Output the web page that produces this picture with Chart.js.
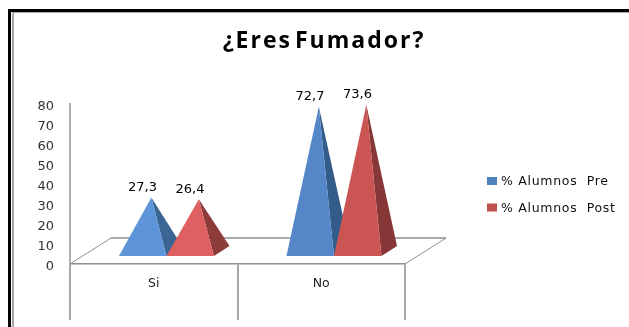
<!DOCTYPE html>
<html lang="es">
<head>
<meta charset="utf-8">
<title>¿Eres Fumador?</title>
<script src="https://cdn.jsdelivr.net/npm/chart.js@4"></script>
<style>
  html, body { margin: 0; padding: 0; background: #fff; }
  canvas { display: block; }
</style>
</head>
<body>
<canvas id="grafico" width="629" height="327"></canvas>
<script>
const chartTitle = '¿Eres Fumador?';
const categories = ['Si', 'No'];
const seriesNames = ['% Alumnos  Pre', '% Alumnos  Post'];
const alumnosPre = [27.3, 72.7];
const alumnosPost = [26.4, 73.6];
const yTicks = [0, 10, 20, 30, 40, 50, 60, 70, 80];

const legendColors = ['#4F81BD', '#C0504D'];
// Front and side face shades, per series and per category
const frontColors = [['#5E95D8', '#5486C8'], ['#DE6060', '#CB5553']];
const sideColors = [['#3A6595', '#335C8A'], ['#8E3B3B', '#873737']];

const FONT = '"DejaVu Sans", sans-serif';
const DEPTH_X = 41, DEPTH_Y = 26;   // oblique offset of the floor's back edge
const BASE_FRONT = 0.31, BASE_BACK = 0.69, APEX_DEPTH = 0.46;

const line = (ctx, pts, color, width) => {
  ctx.save();
  ctx.strokeStyle = color;
  ctx.lineWidth = width;
  ctx.beginPath();
  pts.forEach((p, i) => i ? ctx.lineTo(p[0], p[1]) : ctx.moveTo(p[0], p[1]));
  ctx.stroke();
  ctx.restore();
};

const poly = (ctx, pts, color) => {
  ctx.fillStyle = color;
  ctx.beginPath();
  pts.forEach((p, i) => i ? ctx.lineTo(p[0], p[1]) : ctx.moveTo(p[0], p[1]));
  ctx.closePath();
  ctx.fill();
};

// Page frame, heading and key
const framePlugin = {
  id: 'frame',
  beforeDraw(chart) {
    const ctx = chart.ctx;
    ctx.save();
    ctx.fillStyle = '#fff';
    ctx.fillRect(0, 0, chart.width, chart.height);
    ctx.fillStyle = '#000';
    ctx.fillRect(8, 9, 3, chart.height - 9);
    ctx.fillRect(8, 9, chart.width - 8, 3);
    ctx.fillStyle = '#a6a6a6';
    ctx.fillRect(12, 12, 2, chart.height - 12);
    ctx.fillRect(12, 12, chart.width - 12, 1);

    ctx.fillStyle = '#000';
    ctx.font = 'bold 23px "Open Sans", sans-serif';
    ctx.letterSpacing = '2px';
    ctx.wordSpacing = '-5px';
    ctx.textAlign = 'center';
    ctx.textBaseline = 'middle';
    ctx.fillText(chartTitle, 324, 41);
    ctx.wordSpacing = '0px';

    ctx.font = '12.5px ' + FONT;
    ctx.letterSpacing = '0.7px';
    ctx.textAlign = 'left';
    seriesNames.forEach((name, i) => {
      const y = 181 + i * 26.5;
      ctx.fillStyle = legendColors[i];
      ctx.fillRect(487, y - 4, 10, 8);
      ctx.fillStyle = '#111';
      ctx.fillText(name, 501, y + 1);
    });
    ctx.letterSpacing = '0px';
    ctx.restore();
  }
};

// Floor of the oblique plot: back edge and the two receding sides
const floorPlugin = {
  id: 'floor',
  beforeDatasetsDraw(chart) {
    const { ctx, chartArea: a } = chart;
    const grey = '#8f8f8f';
    line(ctx, [[a.left + DEPTH_X, a.bottom - DEPTH_Y], [a.right + DEPTH_X, a.bottom - DEPTH_Y]], grey, 1.5);
    line(ctx, [[a.left, a.bottom], [a.left + DEPTH_X, a.bottom - DEPTH_Y]], grey, 1);
    line(ctx, [[a.right, a.bottom], [a.right + DEPTH_X, a.bottom - DEPTH_Y]], grey, 1);
  }
};

// Each bar element is rendered as a pyramid rising from the floor
const pyramidPlugin = {
  id: 'pyramids',
  afterDatasetsDraw(chart) {
    const ctx = chart.ctx;
    const y0 = chart.scales.y.getPixelForValue(0);
    ctx.save();
    chart.data.datasets.forEach((ds, s) => {
      chart.getDatasetMeta(s).data.forEach((bar, c) => {
        const half = bar.width / 2;
        const frontX = bar.x + DEPTH_X * BASE_FRONT;
        const frontY = y0 - DEPTH_Y * BASE_FRONT;
        const backX = bar.x + DEPTH_X * BASE_BACK;
        const backY = y0 - DEPTH_Y * BASE_BACK;
        const apex = [bar.x + DEPTH_X * 0.52, bar.y - DEPTH_Y * APEX_DEPTH];
        poly(ctx, [[frontX + half, frontY], [backX + half, backY], apex], sideColors[s][c]);
        poly(ctx, [[frontX - half, frontY], [frontX + half, frontY], apex], frontColors[s][c]);
      });
    });
    ctx.fillStyle = '#000';
    ctx.font = '13px ' + FONT;
    ctx.textAlign = 'center';
    ctx.textBaseline = 'middle';
    chart.data.datasets.forEach((ds, s) => {
      chart.getDatasetMeta(s).data.forEach((bar, c) => {
        const text = String(ds.data[c]).replace('.', ',');
        ctx.fillText(text, bar.x + 12.5, bar.y - DEPTH_Y * APEX_DEPTH - 10);
      });
    });
    ctx.restore();
  }
};

new Chart(document.getElementById('grafico'), {
  type: 'bar',
  data: {
    labels: categories,
    datasets: [
      { label: seriesNames[0], data: alumnosPre, backgroundColor: 'transparent' },
      { label: seriesNames[1], data: alumnosPost, backgroundColor: 'transparent' }
    ]
  },
  options: {
    responsive: false,
    animation: false,
    categoryPercentage: 0.567,
    barPercentage: 1,
    layout: { padding: { left: 0, top: 104, right: 224, bottom: 0 } },
    plugins: {
      legend: { display: false },
      title: { display: false },
      tooltip: { enabled: false }
    },
    scales: {
      x: {
        afterFit(scale) { scale.height = 63; },
        border: { color: '#8f8f8f', width: 1.5 },
        grid: { drawOnChartArea: false, tickLength: 56, color: '#a8a8a8', lineWidth: 2 },
        ticks: { color: '#222', font: { family: FONT, size: 12.5 }, padding: -44, maxRotation: 0 }
      },
      y: {
        min: 0,
        max: yTicks[yTicks.length - 1],
        afterFit(scale) { scale.width = 70; },
        border: { color: '#b0b0b0', width: 2 },
        grid: { display: false, drawTicks: false },
        ticks: { stepSize: 10, color: '#333', font: { family: FONT, size: 13 }, padding: 16, labelOffset: 2.5 }
      }
    }
  },
  plugins: [framePlugin, floorPlugin, pyramidPlugin]
});
</script>
</body>
</html>
